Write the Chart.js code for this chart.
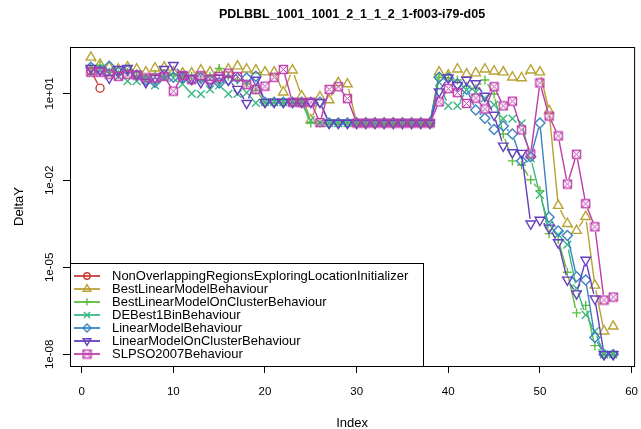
<!DOCTYPE html>
<html><head><meta charset="utf-8">
<script src="https://cdn.jsdelivr.net/npm/chart.js@4.4.1/dist/chart.umd.min.js"></script>
<style>html,body{margin:0;padding:0;background:#fff}#wrap{position:relative;width:641px;height:429px}</style>
</head><body><div id="wrap"><canvas id="c" width="641" height="429"></canvas></div>
<script>
const chartTitle = "PDLBBL_1001_1001_2_1_1_2_1-f003-i79-d05";
const xTitle = "Index";
const yTitle = "DeltaY";
const xTicks = [0, 10, 20, 30, 40, 50, 60];
const yTicks = [1e1, 1e-2, 1e-5, 1e-8];
const yTickLabels = ["1e+01", "1e-02", "1e-05", "1e-08"];
const indices = [1,2,3,4,5,6,7,8,9,10,11,12,13,14,15,16,17,18,19,20,21,22,23,24,25,26,27,28,29,30,31,32,33,34,35,36,37,38,39,40,41,42,43,44,45,46,47,48,49,50,51,52,53,54,55,56,57,58];
const seriesNames = ["NonOverlappingRegionsExploringLocationInitializer","BestLinearModelBehaviour","BestLinearModelOnClusterBehaviour","DEBest1BinBehaviour","LinearModelBehaviour","LinearModelOnClusterBehaviour","SLPSO2007Behaviour"];

const nonOverlapping = [60, 15.2];
const bestLinear = [175,100,80,68,80,68,54,74,80,54, 50,50,63,54,54,68,87,68,63,54, 54,11,63,8.1,1.2,7.5,5.9,23,21,0.95, 0.95,0.95,0.95,0.95,0.95,0.95,0.95,0.95,54,43, 68,46,50,68,58,54,36,34,63,54, 2.5,1.35e-3,3.2e-4,1.85e-4,5.6e-4,2.4e-6,6.3e-8,9.3e-8];
const bestLinearCluster = [74,94,54,46,54,39,34,46,39,46, 34,39,29,39,72,39,29,21,13,5.0, 5.0,5.0,5.0,5.0,0.95,0.95,0.95,0.95,0.95,0.95, 0.95,0.95,0.95,0.95,0.95,0.95,0.95,0.95,36,34, 29,17.8,15,29,9.5,0.40,0.047,0.034,0.0105,0.0044, 1.46e-4,9.1e-5,6.8e-6,2.7e-7,4.9e-7,2.0e-8,1e-8,1e-8];
const deBest1Bin = [54,63,46,39,26.5,26.5,29,19,34,34, 21,9.8,9.5,13.7,19,9.7,9.7,10.6,4.75,5.0, 5.0,5.0,5.0,5.0,1.2,0.95,0.95,0.95,0.95,0.95, 0.95,0.95,0.95,0.95,0.95,0.95,0.95,0.95,24,3.75, 3.75,13,11,6.9,4.0,1.36,1.36,0.93,0.058,0.0032, 2.9e-4,1.34e-4,6.1e-5,1.9e-6,2.3e-7,6.3e-8,1e-8,1e-8];
const linearModel = [80,63,87,54,63,43,29,24,43,36, 34,29,34,29,23,29,34,34,39,5.0, 5.0,5.0,5.0,5.0,5.0,5.0,0.95,0.95,0.95,0.95, 0.95,0.95,0.95,0.95,0.95,0.95,0.95,0.95,36,34, 21,14,2.7,1.4,0.57,0.75,0.40,0.047,0.065,0.95, 5.4e-4,1.8e-4,1.25e-4,4.75e-6,3.7e-6,3.8e-8,1e-8,1e-8];
const linearModelCluster = [74,63,34,68,74,46,24,34,68,94, 43,34,24,23,34,29,14,4.6,29,5.0, 5.0,5.0,5.0,5.0,5.0,5.0,0.95,0.95,0.95,0.95, 0.95,0.95,0.95,0.95,0.95,0.95,0.95,0.95,11.5,35, 19,29,22,8.1,1.8,0.155,0.092,0.087,3.2e-4,4.3e-4, 2.3e-4,7.2e-5,3.7e-6,1.25e-6,1.8e-5,8.3e-7,1e-8,1e-8];
const slpso2007 = [54,54,46,39,46,43,34,34,39,12, 41,30,41,31,38,50,38,20,13.7,17.8, 36,67,5.0,4.75,5.0,0.99,13.7,17,6.6,0.95, 0.95,0.95,0.95,0.95,0.95,0.95,0.95,0.95,5.1,14.6, 10.6,4.5,6.9,2.9,17,3.7,5.4,0.55,0.082,23, 1.66,0.34,0.0075,0.080,0.00157,2.5e-4,7.5e-7,9.5e-7];

const seriesValues = [nonOverlapping, bestLinear, bestLinearCluster, deBest1Bin, linearModel, linearModelCluster, slpso2007];
const colors = ["#CD3B3B","#B8A233","#5DBE3B","#3CB784","#3A84BF","#653EBF","#BE3DAB"];

function sqX(color){
  const c=document.createElement('canvas'); c.width=11; c.height=11;
  const g=c.getContext('2d'); g.strokeStyle=color; g.lineWidth=1.4;
  g.strokeRect(1.5,1.5,8,8); g.lineWidth=1; g.beginPath();
  g.moveTo(2,2); g.lineTo(9,9); g.moveTo(9,2); g.lineTo(2,9); g.stroke();
  return c;
}
const styles = [
  {pointStyle:'circle', radius:4, rotation:0},
  {pointStyle:'triangle', radius:5.5, rotation:0},
  {pointStyle:'cross', radius:4.5, rotation:0},
  {pointStyle:'crossRot', radius:5.5, rotation:0},
  {pointStyle:'rectRot', radius:5, rotation:0},
  {pointStyle:'triangle', radius:5.5, rotation:180},
  {pointStyle:sqX(colors[6]), radius:5, rotation:0}
];

const datasets = seriesValues.map((vals, k) => ({
  label: seriesNames[k],
  data: vals.map((v, i) => ({x: indices[i], y: v})),
  borderColor: colors[k],
  backgroundColor: 'rgba(0,0,0,0)',
  pointBackgroundColor: 'rgba(0,0,0,0)',
  pointBorderColor: colors[k],
  pointBorderWidth: 1.4,
  pointStyle: styles[k].pointStyle,
  pointRadius: styles[k].radius,
  pointRotation: styles[k].rotation,
  borderWidth: 1.4,
  showLine: false,
  order: 7 - k
}));

const FONT = '"Liberation Sans", Arial, sans-serif';

const gapLines = {
  id: 'gapLines',
  beforeDatasetDraw(chart, args) {
    const ds = chart.data.datasets[args.index];
    const pts = args.meta.data;
    const ctx = chart.ctx;
    const gap = 5;
    ctx.save();
    ctx.strokeStyle = ds.borderColor;
    ctx.lineWidth = ds.borderWidth;
    ctx.beginPath();
    for (let i = 0; i < pts.length - 1; i++) {
      const a = pts[i], b = pts[i+1];
      if (a.skip || b.skip) continue;
      const dx = b.x - a.x, dy = b.y - a.y, d = Math.hypot(dx, dy);
      if (d <= 2*gap) continue;
      const ux = dx/d, uy = dy/d;
      ctx.moveTo(a.x + ux*gap, a.y + uy*gap);
      ctx.lineTo(b.x - ux*gap, b.y - uy*gap);
    }
    ctx.stroke();
    ctx.restore();
  }
};

const decor = {
  id: 'decor',
  afterDraw(chart) {
    const ctx = chart.ctx, a = chart.chartArea;
    const ys = chart.scales.y;
    ctx.save();
    ctx.strokeStyle = '#000'; ctx.lineWidth = 1;
    ctx.strokeRect(a.left + 0.5, a.top + 0.5, a.right - a.left, a.bottom - a.top);
    ctx.fillStyle = '#000';
    ctx.font = 'bold 12.5px ' + FONT;
    ctx.textAlign = 'center'; ctx.textBaseline = 'middle';
    ctx.fillText(chartTitle, (a.left + a.right) / 2, 15);
    ctx.font = '13px ' + FONT;
    ctx.fillText(xTitle, (a.left + a.right) / 2, 423);
    ctx.save(); ctx.translate(19, (a.top + a.bottom) / 2); ctx.rotate(-Math.PI/2);
    ctx.fillText(yTitle, 0, 0); ctx.restore();
    ctx.font = '11.5px ' + FONT;
    yTicks.forEach((v, i) => {
      const py = ys.getPixelForValue(v);
      ctx.save(); ctx.translate(53, py); ctx.rotate(-Math.PI/2);
      ctx.textBaseline = 'alphabetic';
      ctx.fillText(yTickLabels[i], 0, 0); ctx.restore();
    });
    const lx = a.left, ly = 263, lw = 353, lh = a.bottom - 263;
    ctx.fillStyle = '#fff';
    ctx.fillRect(lx, ly, lw, lh);
    ctx.strokeStyle = '#000';
    ctx.strokeRect(lx + 0.5, ly + 0.5, lw, lh);
    ctx.font = '13px ' + FONT;
    ctx.textAlign = 'left'; ctx.textBaseline = 'middle';
    seriesNames.forEach((name, k) => {
      const ry = 276 + 13 * k;
      ctx.strokeStyle = colors[k]; ctx.lineWidth = 1.8;
      ctx.beginPath(); ctx.moveTo(lx + 4, ry); ctx.lineTo(lx + 30, ry); ctx.stroke();
      ctx.lineWidth = 1.4;
      ctx.fillStyle = 'rgba(0,0,0,0)';
      if (Chart.helpers && Chart.helpers.drawPoint) {
        Chart.helpers.drawPoint(ctx, {pointStyle: styles[k].pointStyle, rotation: styles[k].rotation, radius: styles[k].radius * 0.8, borderWidth: 1.4}, lx + 17, ry);
      }
      ctx.fillStyle = '#000';
      ctx.fillText(name, lx + 42, ry + 0.5);
    });
    ctx.restore();
  }
};

new Chart(document.getElementById('c'), {
  type: 'line',
  data: { datasets },
  options: {
    responsive: false,
    animation: false,
    layout: { padding: { top: 47, right: 6, bottom: 0, left: 0 } },
    plugins: { legend: { display: false }, title: { display: false }, tooltip: { enabled: false } },
    scales: {
      x: {
        type: 'linear', min: -1.28, max: 60.28,
        afterBuildTicks: s => { s.ticks = xTicks.map(v => ({value: v})); },
        afterFit: s => { s.height = 63; s.paddingLeft = 0; s.paddingRight = 0; },
        grid: { drawOnChartArea: false, drawTicks: true, tickLength: 7, color: '#000', tickColor: '#000' },
        border: { display: true, color: '#000' },
        ticks: { color: '#000', font: { family: FONT, size: 11.5 }, padding: 12, maxRotation: 0, autoSkip: false }
      },
      y: {
        type: 'logarithmic', min: Math.pow(10, -8.4), max: Math.pow(10, 2.6),
        afterBuildTicks: s => { s.ticks = yTicks.map(v => ({value: v})); },
        afterFit: s => { s.width = 70; s.paddingTop = 0; s.paddingBottom = 0; },
        grid: { drawOnChartArea: false, drawTicks: true, tickLength: 7, color: '#000', tickColor: '#000' },
        border: { display: true, color: '#000' },
        ticks: { display: false }
      }
    }
  },
  plugins: [gapLines, decor]
});
</script></body></html>
